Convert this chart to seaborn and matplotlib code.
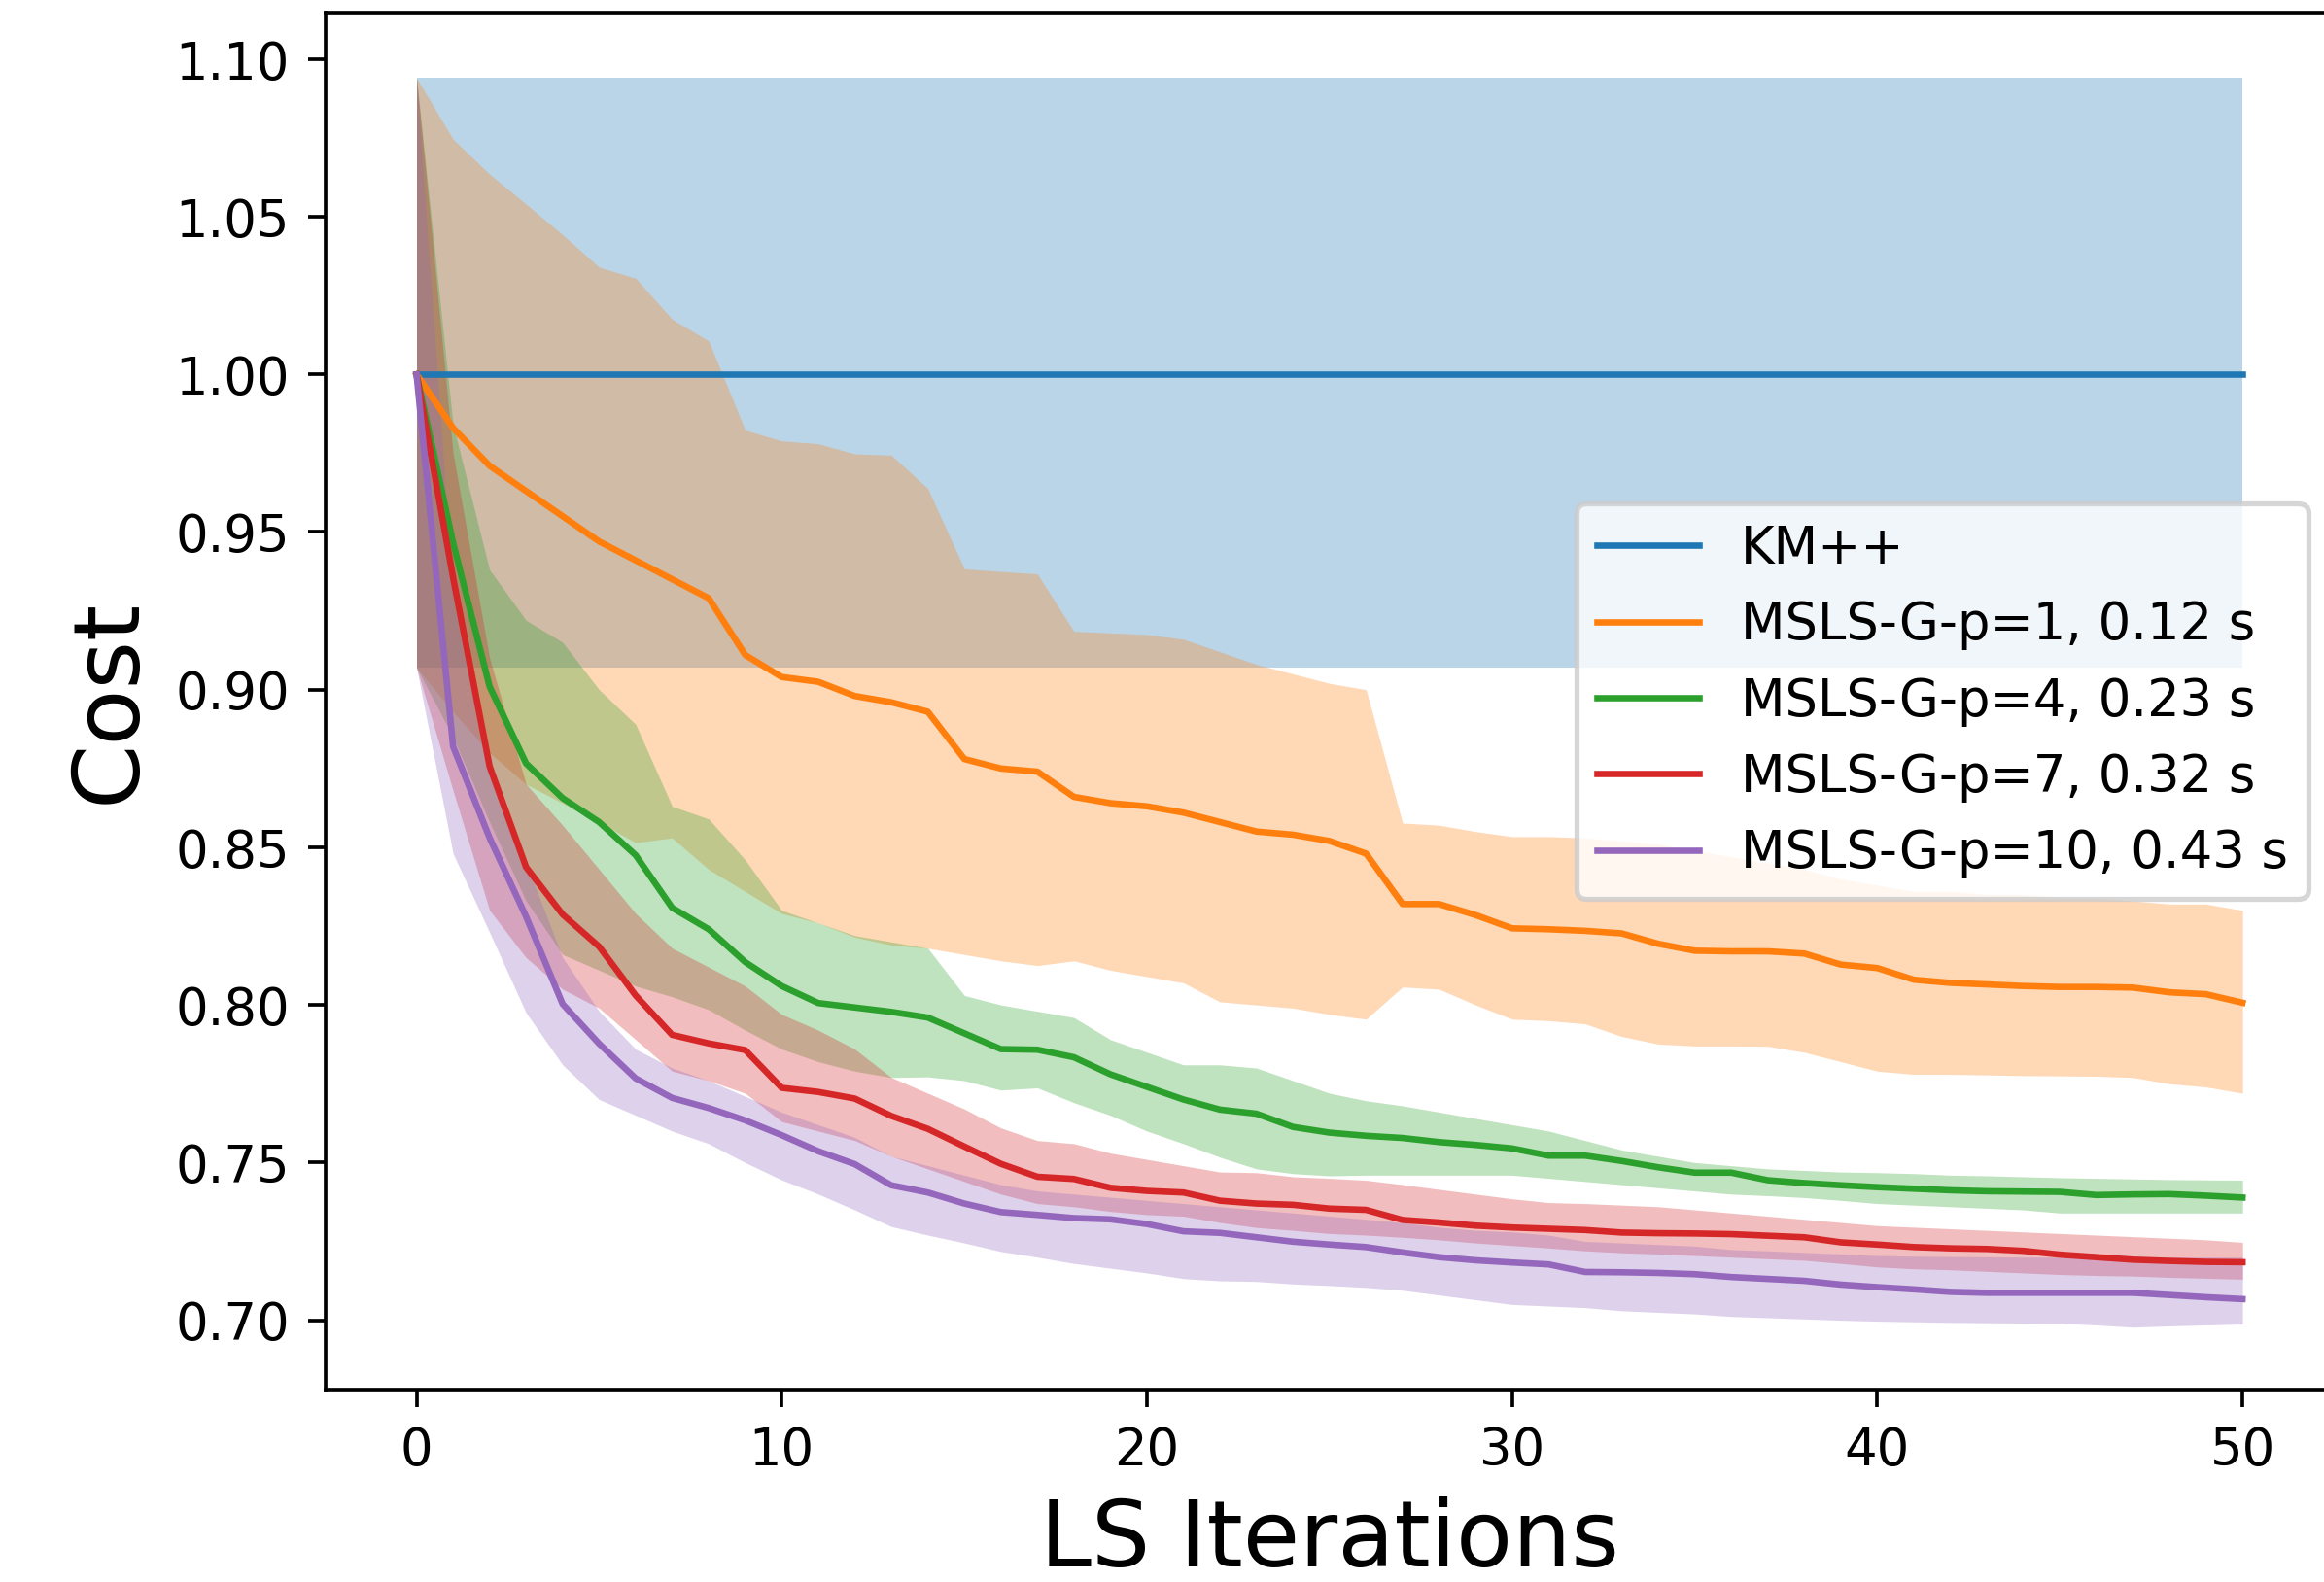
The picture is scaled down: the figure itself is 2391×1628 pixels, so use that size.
"""
Plot the normalised clustering cost against local-search iterations for
KM++ and MSLS-G with several p values, with min/max bands, and save it
as out.png.
"""

import pandas as pd
import seaborn as sns
import matplotlib.pyplot as plt

iterations = list(range(51))

methods = [
    'KM++',
    'MSLS-G-p=1, 0.12 s',
    'MSLS-G-p=4, 0.23 s',
    'MSLS-G-p=7, 0.32 s',
    'MSLS-G-p=10, 0.43 s',
]
colors = ['#1f77b4', '#ff7f0e', '#2ca02c', '#d62728', '#9467bd']

km_mean = [1.0] * 51
km_lo = [0.907] * 51
km_hi = [1.094] * 51

p1_mean = [1.0, 0.983, 0.971, 0.963, 0.955, 0.947, 0.941, 0.935, 0.929, 0.911,
           0.904, 0.9025, 0.898, 0.896, 0.893, 0.878, 0.875, 0.874, 0.866, 0.864,
           0.863, 0.861, 0.858, 0.855, 0.854, 0.852, 0.848, 0.832, 0.832, 0.8285,
           0.8243, 0.824, 0.8235, 0.8227, 0.8194, 0.8172, 0.817, 0.817, 0.8163, 0.8128,
           0.8117, 0.808, 0.807, 0.8065, 0.806, 0.8057, 0.8057, 0.8055, 0.804, 0.8034,
           0.8007]
p1_lo = [0.907, 0.893, 0.880, 0.870, 0.864, 0.858, 0.8515, 0.853, 0.843, 0.836,
         0.829, 0.826, 0.8215, 0.819, 0.818, 0.816, 0.814, 0.8125, 0.814, 0.811,
         0.809, 0.807, 0.801, 0.800, 0.799, 0.797, 0.7955, 0.8057, 0.805, 0.800,
         0.7955, 0.795, 0.794, 0.790, 0.7876, 0.787, 0.787, 0.7869, 0.785, 0.782,
         0.779, 0.778, 0.778, 0.7778, 0.7776, 0.7775, 0.7774, 0.777, 0.775, 0.774,
         0.772]
p1_hi = [1.094, 1.0746, 1.0635, 1.054, 1.0443, 1.034, 1.0305, 1.0175, 1.0106, 0.9823,
         0.9789, 0.978, 0.9748, 0.9744, 0.9638, 0.9383, 0.9375, 0.9367, 0.9185, 0.918,
         0.9175, 0.916, 0.912, 0.908, 0.905, 0.902, 0.900, 0.8577, 0.857, 0.855,
         0.8534, 0.8534, 0.853, 0.852, 0.851, 0.849, 0.847, 0.845, 0.843, 0.840,
         0.838, 0.836, 0.836, 0.835, 0.835, 0.834, 0.834, 0.833, 0.832, 0.832,
         0.830]

p4_mean = [1.0, 0.9466, 0.901, 0.8766, 0.8656, 0.858, 0.8475, 0.8308, 0.824, 0.8136,
           0.806, 0.8006, 0.7992, 0.7978, 0.796, 0.791, 0.786, 0.7858, 0.7834, 0.778,
           0.774, 0.770, 0.7668, 0.7655, 0.7613, 0.7595, 0.7585, 0.7578, 0.7565, 0.7556,
           0.7545, 0.7522, 0.7522, 0.7505, 0.7485, 0.7468, 0.7468, 0.7444, 0.7435, 0.7428,
           0.7422, 0.7417, 0.7412, 0.7409, 0.7408, 0.7407, 0.7397, 0.7399, 0.740, 0.7395,
           0.7389]
p4_lo = [0.907, 0.885, 0.858, 0.833, 0.816, 0.811, 0.806, 0.8026, 0.7985, 0.792,
         0.786, 0.782, 0.779, 0.777, 0.7772, 0.776, 0.773, 0.7737, 0.769, 0.765,
         0.760, 0.756, 0.7517, 0.748, 0.7465, 0.7458, 0.746, 0.746, 0.746, 0.746,
         0.746, 0.745, 0.744, 0.743, 0.742, 0.741, 0.740, 0.7395, 0.7389, 0.738,
         0.737, 0.7365, 0.736, 0.7355, 0.735, 0.734, 0.734, 0.734, 0.734, 0.734,
         0.734]
p4_hi = [1.094, 0.984, 0.938, 0.922, 0.915, 0.900, 0.889, 0.863, 0.859, 0.846,
         0.830, 0.826, 0.822, 0.820, 0.818, 0.803, 0.800, 0.798, 0.796, 0.789,
         0.785, 0.781, 0.781, 0.780, 0.776, 0.772, 0.7696, 0.768, 0.766, 0.764,
         0.762, 0.760, 0.757, 0.754, 0.752, 0.750, 0.749, 0.748, 0.7475, 0.747,
         0.7468, 0.7465, 0.746, 0.7458, 0.7455, 0.7452, 0.745, 0.7448, 0.7446, 0.7445,
         0.7444]

p7_mean = [1.0, 0.9356, 0.8757, 0.8437, 0.8287, 0.8185, 0.803, 0.7905, 0.7878, 0.7857,
           0.7737, 0.7724, 0.7703, 0.7648, 0.7607, 0.7551, 0.7496, 0.7455, 0.7448, 0.742,
           0.741, 0.7405, 0.7379, 0.737, 0.7366, 0.7354, 0.735, 0.7318, 0.731, 0.730,
           0.7294, 0.729, 0.7286, 0.7278, 0.7276, 0.7275, 0.7273, 0.7268, 0.7263, 0.7247,
           0.724, 0.7232, 0.7228, 0.7226, 0.722, 0.7208, 0.720, 0.7192, 0.7188, 0.7185,
           0.7184]
p7_lo = [0.907, 0.868, 0.830, 0.815, 0.805, 0.799, 0.789, 0.779, 0.776, 0.772,
         0.763, 0.760, 0.757, 0.752, 0.748, 0.744, 0.740, 0.737, 0.736, 0.7345,
         0.7335, 0.733, 0.731, 0.7294, 0.7285, 0.7275, 0.727, 0.7263, 0.7255, 0.7245,
         0.7237, 0.7229, 0.722, 0.7214, 0.721, 0.7205, 0.720, 0.7195, 0.719, 0.718,
         0.7169, 0.7163, 0.716, 0.7155, 0.715, 0.7145, 0.7142, 0.714, 0.7136, 0.7133,
         0.713]
p7_hi = [1.094, 0.975, 0.91, 0.870, 0.857, 0.843, 0.829, 0.818, 0.812, 0.806,
         0.797, 0.792, 0.786, 0.777, 0.772, 0.767, 0.761, 0.757, 0.756, 0.753,
         0.751, 0.749, 0.747, 0.7468, 0.7455, 0.745, 0.7444, 0.743, 0.7415, 0.740,
         0.7385, 0.7373, 0.737, 0.7365, 0.736, 0.735, 0.734, 0.733, 0.732, 0.731,
         0.730, 0.7295, 0.729, 0.7285, 0.728, 0.7275, 0.727, 0.7265, 0.726, 0.7255,
         0.7247]

p10_mean = [1.0, 0.882, 0.853, 0.828, 0.8003, 0.7877, 0.7767, 0.7705, 0.7673, 0.7634,
            0.7587, 0.7536, 0.7495, 0.7428, 0.7405, 0.737, 0.7343, 0.7334, 0.7324, 0.732,
            0.7305, 0.7282, 0.7277, 0.7263, 0.7249, 0.724, 0.7232, 0.7215, 0.720, 0.719,
            0.7183, 0.7177, 0.7153, 0.7152, 0.715, 0.7146, 0.7137, 0.7131, 0.7125, 0.7113,
            0.7105, 0.7098, 0.709, 0.7087, 0.7087, 0.7087, 0.7087, 0.7087, 0.708, 0.7073,
            0.7067]
p10_lo = [0.907, 0.848, 0.823, 0.7975, 0.781, 0.770, 0.765, 0.760, 0.756, 0.750,
          0.7445, 0.740, 0.735, 0.7297, 0.727, 0.7245, 0.7218, 0.720, 0.718, 0.7165,
          0.715, 0.7132, 0.7125, 0.7123, 0.7115, 0.711, 0.7104, 0.7095, 0.708, 0.7065,
          0.705, 0.7045, 0.704, 0.703, 0.7025, 0.702, 0.7012, 0.7008, 0.7004, 0.700,
          0.6997, 0.6995, 0.6993, 0.6992, 0.6991, 0.699, 0.6985, 0.6978, 0.6982, 0.6985,
          0.6988]
p10_hi = [1.094, 0.93, 0.875, 0.845, 0.815, 0.798, 0.786, 0.780, 0.776, 0.771,
          0.766, 0.762, 0.758, 0.752, 0.749, 0.746, 0.743, 0.741, 0.740, 0.739,
          0.738, 0.737, 0.736, 0.735, 0.734, 0.733, 0.732, 0.731, 0.7295, 0.7285,
          0.728, 0.727, 0.725, 0.7245, 0.724, 0.7235, 0.7224, 0.722, 0.7215, 0.721,
          0.7205, 0.7203, 0.7202, 0.7201, 0.720, 0.720, 0.720, 0.720, 0.720, 0.720,
          0.720]


def plot_cost_curves(output_file='out.png'):
    """Draw mean cost lines with shaded min/max bands and save the figure."""
    means = [km_mean, p1_mean, p4_mean, p7_mean, p10_mean]
    lows = [km_lo, p1_lo, p4_lo, p7_lo, p10_lo]
    highs = [km_hi, p1_hi, p4_hi, p7_hi, p10_hi]

    # long-form table for seaborn
    frames = []
    for name, mean in zip(methods, means):
        frames.append(pd.DataFrame({
            'LS Iterations': iterations,
            'Cost': mean,
            'method': name,
        }))
    data = pd.concat(frames, ignore_index=True)

    dpi = 380
    fig = plt.figure(figsize=(2391.2 / dpi, 1628.2 / dpi), dpi=dpi)
    ax = fig.add_axes([0.13994, 0.12162, 0.86420, 0.87039])

    # shaded bands first, lines on top
    for color, lo, hi in zip(colors, lows, highs):
        ax.fill_between(iterations, lo, hi, color=color, alpha=0.3,
                        linewidth=0)

    sns.lineplot(data=data, x='LS Iterations', y='Cost', hue='method',
                 hue_order=methods, palette=colors, linewidth=1.25,
                 errorbar=None, ax=ax)

    ax.set_xlim(-2.5, 52.5)
    ax.set_ylim(0.678, 1.1148)
    ax.set_xticks([0, 10, 20, 30, 40, 50])
    ax.set_yticks([0.70, 0.75, 0.80, 0.85, 0.90, 0.95, 1.00, 1.05, 1.10])
    ax.tick_params(labelsize=10, width=0.7, length=3.5)
    for spine in ax.spines.values():
        spine.set_linewidth(0.7)

    ax.set_xlabel('LS Iterations', fontsize=18)
    ax.set_ylabel('Cost', fontsize=18)

    ax.legend(title=None, loc='center right', fontsize=10)

    fig.savefig(output_file, dpi=dpi)
    plt.close(fig)


if __name__ == '__main__':
    plot_cost_curves()
